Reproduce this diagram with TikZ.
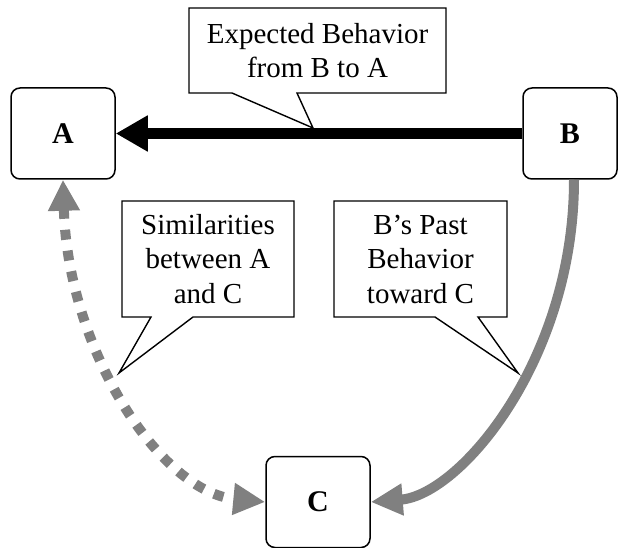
\documentclass[tikz,border=0pt]{standalone}
\usepackage{fontspec}
\setmainfont{Liberation Serif}
\usetikzlibrary{arrows.meta}
\definecolor{midgray}{RGB}{128,128,128}
\tikzset{
  agent/.style={draw=black, line width=1.5pt, rounded corners=9pt, fill=white,
    minimum height=91pt, inner sep=0pt, font=\fontsize{30}{34}\selectfont\bfseries},
  callout/.style={draw=black, line width=1.4pt, fill=white, line join=miter},
  calltext/.style={align=center, inner sep=0pt, font=\fontsize{29}{34.5}\selectfont},
  mainarrow/.style={line width=11pt, -{Triangle[length=32pt,width=34pt]}},
  grayarrow/.style={midgray, line width=10pt, -{Triangle[length=32pt,width=30pt]}},
  dotarrow/.style={midgray, line width=10pt, dash pattern=on 10pt off 11pt,
    {Triangle[length=31pt,width=30pt]}-{Triangle[length=32pt,width=30pt]}}
}
\begin{document}
\begin{tikzpicture}[x=1pt, y=-1pt]
\useasboundingbox (0,0) rectangle (619,548);
% agents
\node[agent, minimum width=104pt] (A) at (63,133.5) {A};
\node[agent, minimum width=94pt] (B) at (570,133.5) {B};
\node[agent, minimum width=104pt] (C) at (318,502) {C};
\coordinate (Bs) at ([xshift=4pt]B.south);
% connectors
\draw[mainarrow] (B.west) -- (A.east);
\draw[grayarrow] (Bs) .. controls (574,360) and (460,495) .. (C.east);
\draw[dotarrow] (A.south) .. controls (68,350) and (160,492) .. (C.west);
% callouts
\draw[callout] (189,8) -- (446,8) -- (446,93) -- (297,93) -- (313,128) -- (232,93) -- (189,93) -- cycle;
\node[calltext] (t1) at (317.5,50.5) {Expected Behavior\\from B to A};
\draw[callout] (122,201) -- (294,201) -- (294,317) -- (193,317) -- (119,373) -- (151,317) -- (122,317) -- cycle;
\node[calltext] (t2) at (208,259) {Similarities\\between A\\and C};
\draw[callout] (334,201) -- (507,201) -- (507,317) -- (478,317) -- (518,373) -- (435,317) -- (334,317) -- cycle;
\node[calltext] (t3) at (420.5,259) {B’s Past\\Behavior\\toward C};
\end{tikzpicture}
\end{document}
